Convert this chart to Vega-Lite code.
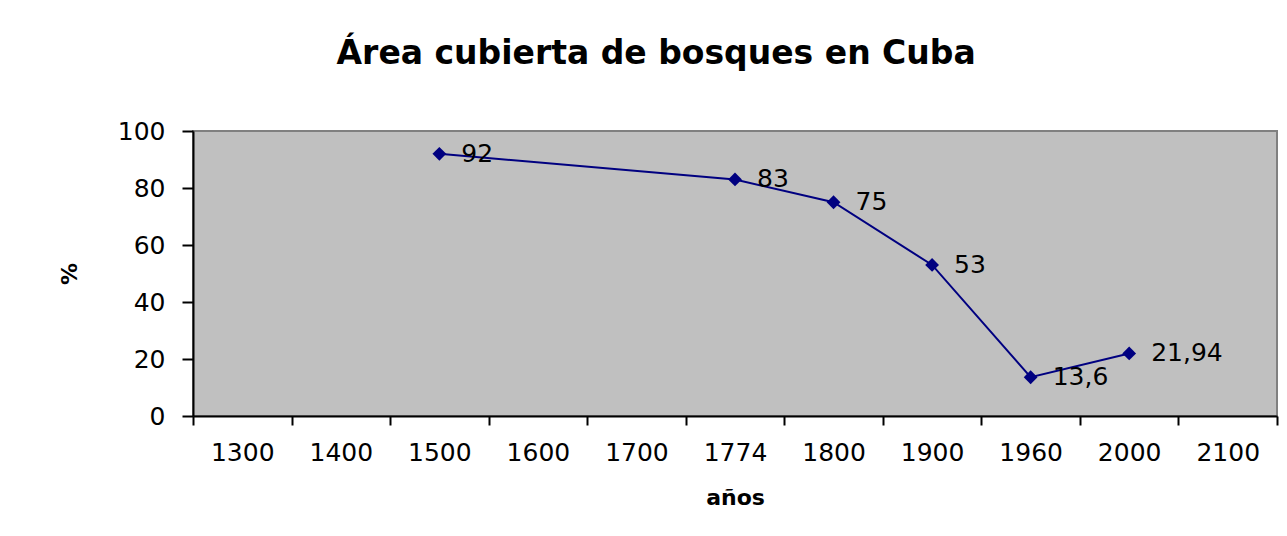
{
  "$schema": "https://vega.github.io/schema/vega-lite/v6.json",
  "width": 1084,
  "height": 285,
  "autosize": "none",
  "padding": {"left": 193, "top": 131, "right": 10, "bottom": 120},
  "background": "white",
  "title": {
    "text": "Área cubierta de bosques en Cuba",
    "font": "DejaVu Sans",
    "fontSize": 33,
    "fontWeight": "bold",
    "color": "black",
    "anchor": "middle",
    "frame": "bounds",
    "offset": 48,
    "dx": -12
  },
  "data": {
    "values": [
      {"year": "1500", "pct": 92},
      {"year": "1774", "pct": 83},
      {"year": "1800", "pct": 75},
      {"year": "1900", "pct": 53},
      {"year": "1960", "pct": 13.6},
      {"year": "2000", "pct": 21.94}
    ]
  },
  "encoding": {
    "x": {
      "field": "year",
      "type": "ordinal",
      "sort": null,
      "scale": {
        "domain": ["1300", "1400", "1500", "1600", "1700", "1774", "1800", "1900", "1960", "2000", "2100"],
        "paddingInner": 0,
        "paddingOuter": 0
      },
      "axis": {
        "title": "años",
        "tickBand": "extent",
        "labelAngle": 0,
        "labelFont": "DejaVu Sans",
        "labelFontSize": 25,
        "labelColor": "black",
        "labelPadding": 15,
        "tickSize": 9,
        "tickColor": "black",
        "tickWidth": 2,
        "domainColor": "black",
        "domainWidth": 2,
        "titleFont": "DejaVu Sans",
        "titleFontSize": 22,
        "titleFontWeight": "bold",
        "titleColor": "black",
        "titlePadding": 22
      }
    },
    "y": {
      "field": "pct",
      "type": "quantitative",
      "scale": {"domain": [0, 100], "nice": false, "zero": true},
      "axis": {
        "title": "%",
        "values": [0, 20, 40, 60, 80, 100],
        "grid": false,
        "labelFont": "DejaVu Sans",
        "labelFontSize": 25,
        "labelColor": "black",
        "labelPadding": 17,
        "tickSize": 11,
        "tickColor": "black",
        "tickWidth": 2,
        "domainColor": "black",
        "domainWidth": 2,
        "titleFont": "DejaVu Sans",
        "titleFontSize": 22,
        "titleFontWeight": "bold",
        "titleColor": "black",
        "titlePadding": 36
      }
    }
  },
  "layer": [
    {"mark": {"type": "line", "color": "#000080", "strokeWidth": 2}},
    {"mark": {"type": "point", "shape": "diamond", "filled": true, "color": "#000080", "size": 190, "opacity": 1}},
    {
      "mark": {"type": "text", "align": "left", "baseline": "middle", "dx": 22, "font": "DejaVu Sans", "fontSize": 25, "color": "black"},
      "encoding": {"text": {"field": "pct", "type": "quantitative", "format": "~g"}}
    }
  ],
  "config": {
    "locale": {
      "number": {"decimal": ",", "thousands": ".", "grouping": [3], "currency": ["", " €"]}
    },
    "view": {"fill": "#C0C0C0", "stroke": "#808080", "strokeWidth": 2}
  }
}
